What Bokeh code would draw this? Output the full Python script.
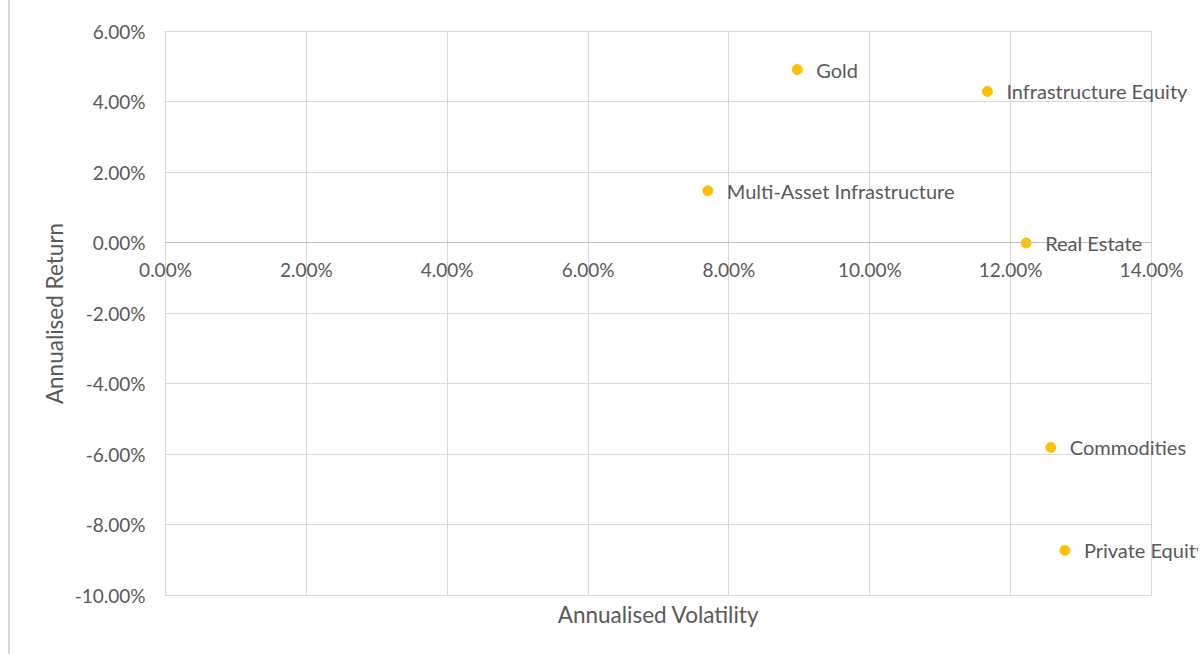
from bokeh.plotting import figure
from bokeh.models import ColumnDataSource, LabelSet, Label, FixedTicker, PrintfTickFormatter, BoxAnnotation
from bokeh.core.properties import value
from bokeh.embed import file_html
from bokeh.resources import INLINE

assets = ["Gold", "Infrastructure Equity", "Multi-Asset Infrastructure", "Real Estate", "Commodities", "Private Equity"]
volatility = [8.97, 11.67, 7.70, 12.22, 12.57, 12.77]
returns = [4.92, 4.30, 1.48, 0.0, -5.80, -8.72]

x_ticks = [0, 2, 4, 6, 8, 10, 12, 14]
y_ticks = [-10, -8, -6, -4, -2, 0, 2, 4, 6]

FONT = "Lato"
TXT = "#595959"
GRID = "#d9d9d9"

src = ColumnDataSource(dict(x=volatility, y=returns, name=assets))

# plot area spans 0..14 (x) and -10..6 (y); the frame is larger so texts are never clipped
p = figure(width=1190, height=654, x_range=(-2.2008, 14.6955), y_range=(-11.6738, 6.8794),
           output_backend="svg", toolbar_location=None,
           min_border_left=0, min_border_right=0, min_border_top=0, min_border_bottom=0)
p.styles = {"border-left": "2px solid #d9d9d9", "margin-left": "8px"}
p.outline_line_color = None

p.xaxis.ticker = FixedTicker(ticks=x_ticks)
p.yaxis.ticker = FixedTicker(ticks=y_ticks)
p.xaxis.formatter = PrintfTickFormatter(format="%.2f%%")
p.yaxis.formatter = PrintfTickFormatter(format="%.2f%%")
p.xaxis.fixed_location = 0
p.xaxis.bounds = (x_ticks[0], x_ticks[-1])
p.yaxis.fixed_location = 0
p.yaxis.bounds = (y_ticks[0], y_ticks[-1])

for ax in (p.xaxis[0], p.yaxis[0]):
    ax.major_tick_line_color = None
    ax.minor_tick_line_color = None
    ax.major_label_text_font = FONT
    ax.major_label_text_font_size = "19px"
    ax.major_label_text_color = TXT
    ax.axis_label_text_font = FONT
    ax.axis_label_text_font_size = "22.5px"
    ax.axis_label_text_color = TXT
    ax.axis_label_text_font_style = "normal"

p.xaxis.axis_line_color = "#bfbfbf"
p.xaxis.major_label_standoff = 9
p.yaxis.axis_line_color = None
p.yaxis.major_label_standoff = 14
p.yaxis.axis_label = "Annualised Return"
p.yaxis.axis_label_standoff = 4

p.xgrid.ticker = FixedTicker(ticks=x_ticks)
p.ygrid.ticker = FixedTicker(ticks=y_ticks)
p.xgrid.grid_line_color = GRID
p.ygrid.grid_line_color = GRID

# blank out the grid outside the plot area
eps = 0.012
for kw in (dict(left=x_ticks[-1] + eps), dict(right=x_ticks[0] - eps),
           dict(bottom=y_ticks[-1] + eps), dict(top=y_ticks[0] - eps)):
    p.add_layout(BoxAnnotation(fill_color="white", fill_alpha=1.0,
                               line_color=None, level="glyph", **kw))

p.add_layout(Label(x=(x_ticks[0] + x_ticks[-1]) / 2, y=y_ticks[0], y_offset=-19,
                   text="Annualised Volatility", text_align="center", text_baseline="middle",
                   text_font=FONT, text_font_size="22.5px", text_color=TXT))

p.scatter("x", "y", source=src, size=10, color="#FFC000", line_color="#FFC000")

labels = LabelSet(x="x", y="y", text="name", source=src, x_offset=19, y_offset=0,
                  text_baseline="middle", text_font=value(FONT), text_font_size="20px",
                  text_color=TXT)
p.add_layout(labels)

open("out.html", "w").write(file_html(p, INLINE))
